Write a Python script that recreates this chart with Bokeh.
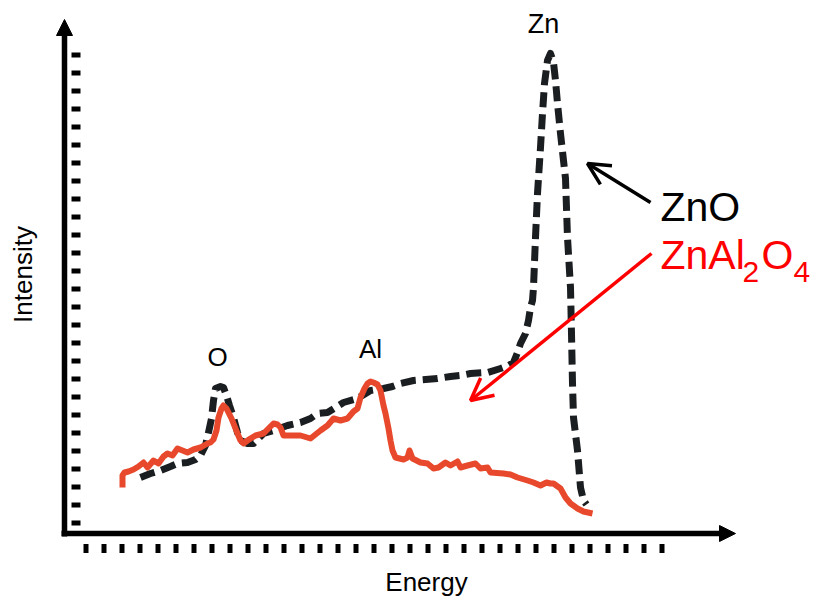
from bokeh.plotting import figure
from bokeh.models import Range1d, Arrow, NormalHead, OpenHead, Label
from bokeh.embed import file_html
from bokeh.resources import INLINE
from math import pi

# ZnO spectrum (black dashed), arbitrary units
zno_energy = [76, 86, 96, 106, 113, 123, 131, 136, 141, 144, 147, 149, 151, 156, 159, 162, 165, 169, 173, 176,
              183, 189, 194, 199, 209, 223, 236, 246, 253, 263, 271, 279, 293, 306, 319, 328, 336, 349, 361, 373,
              386, 396, 406, 423, 436, 444, 449, 453, 456, 461, 464, 466, 468, 469, 471, 473, 476, 478, 480, 483,
              486, 489, 491, 493, 496, 499, 501, 503, 506, 507, 508, 509, 513, 516, 519, 522]
zno_intensity = [56, 60, 63, 67, 70, 71, 74, 78, 88, 101, 115, 133, 145, 147, 146, 138, 128, 116, 101, 93,
                 90, 90, 95, 100, 103, 108, 111, 115, 120, 121, 126, 131, 135, 143, 145, 147, 150, 153, 154, 155,
                 157, 158, 160, 161, 165, 168, 171, 181, 190, 200, 213, 226, 233, 246, 296, 340, 386, 420, 450, 473,
                 480, 471, 453, 430, 400, 373, 355, 296, 246, 200, 150, 116, 83, 46, 33, 29]

# ZnAl2O4 spectrum (red)
znal_energy = [58, 58, 60, 64, 69, 74, 79, 83, 89, 94, 99, 103, 108, 113, 118, 123, 129, 136, 143, 146,
               149, 152, 154, 157, 159, 162, 164, 167, 169, 173, 176, 179, 183, 186, 191, 199, 204, 209, 213, 216,
               219, 228, 236, 246, 251, 256, 263, 269, 276, 283, 289, 293, 296, 300, 303, 306, 309, 313, 316, 319,
               321, 324, 326, 328, 331, 339, 343, 345, 348, 356, 363, 369, 374, 381, 386, 393, 396, 403, 411, 416,
               423, 426, 439, 446, 453, 463, 469, 476, 482, 486, 489, 496, 501, 506, 513, 519, 528]
znal_intensity = [46, 58, 61, 62, 64, 67, 71, 66, 73, 70, 77, 80, 78, 85, 83, 81, 84, 86, 90, 91,
                  94, 103, 116, 125, 128, 125, 121, 115, 110, 100, 93, 90, 93, 95, 98, 100, 105, 110, 109, 106,
                  98, 98, 98, 95, 99, 103, 108, 115, 113, 115, 122, 125, 136, 145, 150, 152, 151, 149, 143, 128,
                  120, 105, 93, 83, 76, 74, 76, 83, 75, 71, 70, 65, 66, 71, 68, 72, 66, 68, 70, 65,
                  66, 61, 60, 59, 56, 53, 51, 48, 51, 50, 50, 45, 36, 30, 25, 22, 20]

peak_names = ["O", "Al", "Zn"]
peak_energy = [153, 306, 479]
peak_label_y = [177, 185, 510]

FONT = "Liberation Sans"

p = figure(width=816, height=599, x_range=Range1d(-64, 752), y_range=Range1d(-66, 533),
           output_backend="svg", toolbar_location=None,
           x_axis_location=None, y_axis_location=None, min_border=0)
p.min_border_left = p.min_border_right = p.min_border_top = p.min_border_bottom = 0
p.outline_line_color = None
p.xgrid.visible = False
p.ygrid.visible = False
p.background_fill_color = "white"
p.border_fill_color = "white"

# axes with arrow heads
p.add_layout(Arrow(x_start=0, y_start=-3, x_end=0, y_end=514, line_width=5.5, line_color="black",
                   end=NormalHead(size=16, fill_color="black", line_color="black", line_width=1)))
p.add_layout(Arrow(x_start=-3, y_start=0, x_end=671, y_end=0, line_width=5.5, line_color="black",
                   end=NormalHead(size=16, fill_color="black", line_color="black", line_width=1)))

# dotted tick rows
p.line([11.5, 11.5], [481, 5], line_color="black", line_width=9, line_dash="5 13")
p.line([19, 600], [-15, -15], line_color="black", line_width=9, line_dash="5 13")

# spectra
p.line(zno_energy, zno_intensity, line_color="#1b1e21", line_width=7, line_dash="15 7", line_join="round")
p.line(znal_energy, znal_intensity, line_color="#e8492c", line_width=6, line_join="round")

# peak labels
for name, ex, ey in zip(peak_names, peak_energy, peak_label_y):
    p.add_layout(Label(x=ex, y=ey, text=name, text_align="center", text_baseline="alphabetic",
                       text_font=FONT, text_font_size="27px" if name == "Zn" else "26px", text_color="black"))

# pointer arrows
p.add_layout(Arrow(x_start=586, y_start=331, x_end=523, y_end=370, line_width=3.5, line_color="black",
                   end=OpenHead(size=22, line_width=3.5, line_color="black")))
p.add_layout(Arrow(x_start=587, y_start=280, x_end=406, y_end=133, line_width=3.5, line_color="#ff0000",
                   end=OpenHead(size=22, line_width=3.5, line_color="#ff0000")))

# legend-like labels
p.add_layout(Label(x=596, y=327, text="ZnO", text_font=FONT, text_font_size="41px", text_color="black",
                   text_baseline="alphabetic"))
p.add_layout(Label(x=596, y=279, text="ZnAl", text_font=FONT, text_font_size="41px", text_color="#ff0000",
                   text_baseline="alphabetic"))
p.add_layout(Label(x=678, y=262, text="2", text_font=FONT, text_font_size="30px", text_color="#ff0000",
                   text_baseline="alphabetic"))
p.add_layout(Label(x=697, y=279, text="O", text_font=FONT, text_font_size="41px", text_color="#ff0000",
                   text_baseline="alphabetic"))
p.add_layout(Label(x=729, y=262, text="4", text_font=FONT, text_font_size="30px", text_color="#ff0000",
                   text_baseline="alphabetic"))

# axis titles
p.add_layout(Label(x=362, y=-48, text="Energy", text_font=FONT, text_font_size="26px", text_color="black",
                   text_align="center", text_baseline="alphabetic"))
p.add_layout(Label(x=-42, y=259, text="Intensity", angle=pi / 2, text_font=FONT, text_font_size="26px",
                   text_color="black", text_align="center", text_baseline="alphabetic"))

open("out.html", "w").write(file_html(p, INLINE))
